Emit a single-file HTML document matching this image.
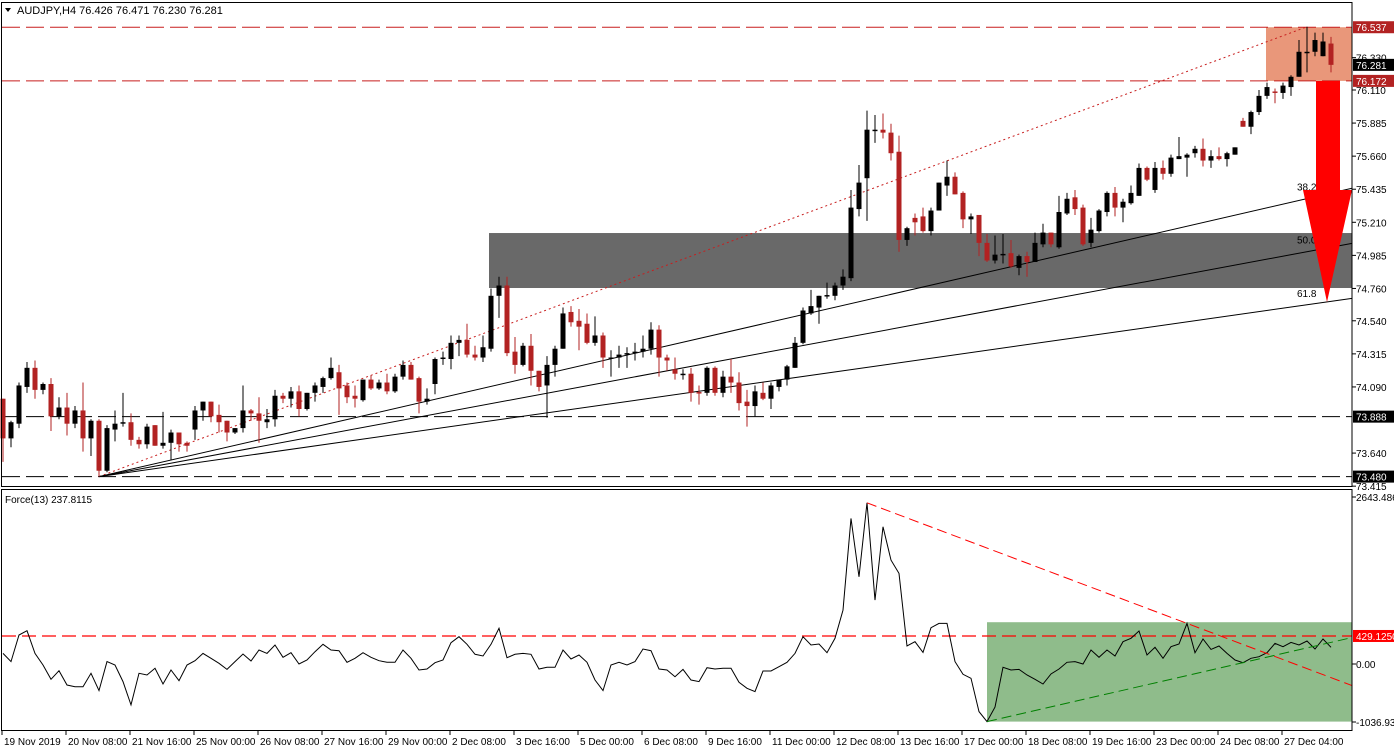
<!DOCTYPE html>
<html><head><meta charset="utf-8">
<style>
html,body{margin:0;padding:0;background:#fff;}
svg{display:block;font-family:"Liberation Sans",sans-serif;}
</style></head>
<body>
<svg id="chart" width="1394" height="753" viewBox="0 0 1394 753" xmlns="http://www.w3.org/2000/svg">
<rect x="0" y="0" width="1394" height="753" fill="#fff"/>
<g id="bg"></g>
<g id="marks"></g>
<g id="over"></g>
<g id="axes"></g>
</svg>
<script>
// ---- data ----
const opens=[74.01,73.74,73.84,74.09,74.22,74.07,74.11,73.89,73.95,73.84,73.93,73.74,73.86,73.52,73.80,73.84,73.85,73.73,73.70,73.83,73.69,73.71,73.78,73.71,73.80,73.93,73.99,73.90,73.86,73.78,73.81,73.93,73.91,73.85,73.87,74.03,74.01,74.06,73.94,74.05,74.09,74.15,74.19,74.10,74.03,74.00,74.14,74.08,74.12,74.06,74.16,74.24,74.15,73.99,74.11,74.28,74.28,74.39,74.41,74.31,74.29,74.35,74.71,74.78,74.33,74.24,74.37,74.20,74.10,74.24,74.35,74.60,74.54,74.52,74.39,74.44,74.29,74.29,74.31,74.32,74.33,74.35,74.48,74.29,74.21,74.17,74.18,74.055,74.05,74.22,74.05,74.16,74.12,73.99,73.96,74.05,74.01,74.09,74.14,74.22,74.39,74.59,74.63,74.705,74.71,74.78,74.83,75.30,75.51,75.83,75.84,75.82,75.69,75.09,75.24,75.25,75.15,75.29,75.46,75.52,75.41,75.23,75.26,75.07,74.95,74.985,75.00,74.90,74.98,74.94,75.06,75.14,75.04,75.27,75.38,75.31,75.07,75.15,75.28,75.41,75.31,75.34,75.39,75.58,75.43,75.58,75.54,75.64,75.65,75.68,75.71,75.63,75.66,75.64,75.67,75.90,75.86,75.96,76.07,76.10,76.09,76.13,76.20,76.36,76.37,76.34,76.426];
const highs=[74.01,73.86,74.12,74.26,74.27,74.12,74.15,74.02,74.05,73.96,74.12,73.87,73.87,73.83,73.93,74.05,73.91,73.75,73.84,73.83,73.92,73.80,73.78,73.72,73.96,73.99,73.99,73.97,73.86,73.81,74.10,73.94,74.02,73.94,74.07,74.05,74.09,74.10,74.05,74.12,74.16,74.29,74.24,74.12,74.10,74.14,74.17,74.14,74.18,74.18,74.27,74.26,74.16,74.08,74.29,74.33,74.44,74.44,74.52,74.37,74.44,74.76,74.84,74.84,74.43,74.39,74.45,74.20,74.30,74.37,74.63,74.64,74.62,74.59,74.57,74.46,74.34,74.37,74.36,74.39,74.44,74.53,74.51,74.31,74.29,74.21,74.22,74.10,74.23,74.23,74.20,74.28,74.19,74.07,74.10,74.12,74.12,74.14,74.24,74.43,74.63,74.75,74.71,74.80,74.80,74.89,75.43,75.60,75.97,75.94,75.95,75.88,75.80,75.18,75.27,75.31,75.31,75.48,75.63,75.55,75.42,75.27,75.26,75.13,75.12,75.13,75.09,74.99,75.01,75.14,75.20,75.14,75.39,75.41,75.43,75.33,75.24,75.30,75.42,75.45,75.37,75.46,75.61,75.59,75.62,75.63,75.67,75.79,75.68,75.73,75.78,75.70,75.72,75.69,75.72,75.92,75.97,76.11,76.16,76.12,76.16,76.21,76.45,76.54,76.50,76.50,76.471];
const lows=[73.58,73.68,73.81,74.05,74.01,74.04,73.79,73.87,73.76,73.81,73.65,73.62,73.48,73.51,73.72,73.82,73.69,73.67,73.67,73.69,73.67,73.59,73.65,73.65,73.73,73.86,73.85,73.78,73.72,73.77,73.78,73.86,73.71,73.81,73.82,73.98,73.95,73.89,73.93,73.99,74.05,74.14,73.90,73.98,73.95,73.99,74.07,74.07,74.04,74.05,74.14,74.14,73.91,73.97,74.04,74.24,74.21,74.30,74.29,74.27,74.26,74.33,74.56,74.30,74.18,74.23,74.10,74.06,73.88,74.16,74.35,74.50,74.34,74.38,74.37,74.22,74.16,74.22,74.22,74.27,74.29,74.31,74.16,74.20,74.14,74.14,73.99,73.97,74.03,74.03,74.02,74.05,73.93,73.82,73.89,74.00,73.94,74.06,74.10,74.22,74.38,74.58,74.52,74.69,74.68,74.75,74.81,75.25,75.22,75.75,75.78,75.63,75.01,75.05,75.12,75.14,75.12,75.29,75.39,75.40,75.17,75.13,74.98,74.94,74.93,74.93,74.90,74.85,74.84,74.94,75.04,75.04,75.03,75.26,75.26,75.05,75.04,75.14,75.25,75.25,75.21,75.33,75.39,75.49,75.41,75.50,75.52,75.64,75.52,75.65,75.59,75.58,75.63,75.59,75.67,75.86,75.81,75.94,76.05,76.02,76.05,76.07,76.20,76.23,76.34,76.34,76.230];
const closes=[73.74,73.85,74.10,74.22,74.07,74.11,73.89,73.95,73.84,73.93,73.74,73.86,73.52,73.81,73.84,73.85,73.73,73.70,73.82,73.69,73.71,73.78,73.70,73.69,73.93,73.99,73.89,73.85,73.78,73.81,73.93,73.91,73.86,73.87,74.03,74.01,74.06,73.94,74.05,74.10,74.15,74.22,74.08,74.02,74.01,74.14,74.08,74.12,74.06,74.16,74.24,74.14,73.99,74.01,74.28,74.29,74.39,74.41,74.31,74.29,74.36,74.71,74.78,74.32,74.24,74.37,74.20,74.09,74.24,74.35,74.59,74.53,74.50,74.39,74.44,74.29,74.29,74.31,74.32,74.33,74.35,74.48,74.29,74.27,74.18,74.18,74.05,74.045,74.22,74.05,74.16,74.12,73.98,73.96,74.06,74.01,74.10,74.14,74.23,74.39,74.61,74.64,74.71,74.715,74.78,74.84,75.31,75.48,75.84,75.84,75.82,75.68,75.09,75.17,75.21,75.15,75.29,75.48,75.52,75.40,75.23,75.25,75.07,74.95,74.99,74.995,74.91,74.98,74.94,75.07,75.14,75.06,75.28,75.37,75.30,75.06,75.16,75.29,75.41,75.31,75.35,75.41,75.58,75.50,75.58,75.54,75.65,75.66,75.67,75.71,75.63,75.66,75.64,75.68,75.72,75.86,75.96,76.07,76.13,76.09,76.14,76.20,76.37,76.37,76.45,76.44,76.281];
const force=[163,36,444,510,163,-15,-235,-102,-321,-347,-347,-143,-408,36,-15,-270,-627,-143,-168,-66,-306,-92,-255,-15,51,163,87,10,-82,36,153,46,214,163,291,102,173,0,61,189,301,214,204,26,87,173,102,51,26,26,214,87,-92,-77,20,61,326,418,301,148,122,301,546,97,148,163,148,-77,-51,-51,214,77,138,26,-245,-408,-15,26,-15,36,230,204,-77,-92,-194,-82,-245,-270,-56,-77,-66,-66,-281,-372,-423,-107,-107,-41,26,163,418,291,306,173,393,826,2229,1336,2468,979,2101,1591,1387,275,342,178,556,622,622,36,-158,-219,-729,-882,-660,-51,-92,-82,-168,-235,-306,-153,-77,26,36,0,214,102,214,122,342,393,505,138,255,87,265,306,622,173,383,224,275,163,61,20,87,112,173,316,265,331,291,352,230,383,255];
const priceTicks=["76.330","76.110","75.885","75.660","75.435","75.210","74.985","74.760","74.540","74.315","74.090","73.640","73.415"];
const timeLabels=["19 Nov 2019","20 Nov 08:00","21 Nov 16:00","25 Nov 00:00","26 Nov 08:00","27 Nov 16:00","29 Nov 00:00","2 Dec 08:00","3 Dec 16:00","5 Dec 00:00","6 Dec 08:00","9 Dec 16:00","11 Dec 00:00","12 Dec 08:00","13 Dec 16:00","17 Dec 00:00","18 Dec 08:00","19 Dec 16:00","23 Dec 00:00","24 Dec 08:00","27 Dec 04:00"];
const resistLevels=[76.537,76.172];
const supportLevels=[73.888,73.480];
const zoneGray=[75.137,74.763];
const forceLevel=[429.125];
const fibRatios=[0.382,0.5,0.618];

// ---- scales ----
const NS="http://www.w3.org/2000/svg";
const PX=1352;
function xB(i){return 3+8*i;}
function yP(p){return 90+(76.110-p)*147;}
function yF(v){return 664-v*0.0653;}
function el(tag,attrs,parent){const e=document.createElementNS(NS,tag);for(const k in attrs)e.setAttribute(k,attrs[k]);parent.appendChild(e);return e;}
const bg=document.getElementById('bg'),mk=document.getElementById('marks'),ov=document.getElementById('over'),ax=document.getElementById('axes');

// zones
let z=el('rect',{x:489,y:yP(zoneGray[0]),width:PX-489,height:yP(zoneGray[1])-yP(zoneGray[0]),fill:'#696969'},bg);


z=el('rect',{x:1266,y:yP(resistLevels[0]),width:PX-1266,height:yP(resistLevels[1])-yP(resistLevels[0]),fill:'#E9977A'},bg);


z=el('rect',{x:987,y:yF(640),width:PX-987,height:yF(-882)-yF(640),fill:'#8FBC8B'},bg);



// horizontal levels
resistLevels.forEach(p=>{const l=el('line',{x1:2,x2:PX,y1:yP(p),y2:yP(p),stroke:'#C81E1E','stroke-width':1,'stroke-dasharray':'18,6'},bg);

});
supportLevels.forEach(p=>{const l=el('line',{x1:2,x2:PX,y1:yP(p),y2:yP(p),stroke:'#000','stroke-width':1,'stroke-dasharray':'18,6'},bg);

});
forceLevel.forEach(v=>{const l=el('line',{x1:2,x2:PX,y1:yF(v),y2:yF(v),stroke:'#FF0000','stroke-width':1.2,'stroke-dasharray':'14,6'},bg);

});

// fib fan + trend
const ox=xB(12),oy=yP(lows[12]),tx=xB(163),ty=yP(highs[163]);
let tl=el('line',{x1:ox,y1:oy,x2:tx,y2:ty,stroke:'#C81E1E','stroke-width':1,'stroke-dasharray':'2,3'},bg);


fibRatios.forEach(r=>{const yy=ty+r*(oy-ty);const ye=oy+(yy-oy)*(PX-ox)/(tx-ox);
const l=el('line',{x1:ox,y1:oy,x2:PX,y2:ye,stroke:'#000','stroke-width':1},bg);


const t=el('text',{x:1297,y:yy-8,'font-size':10,fill:'#000'},ov);t.textContent=(r*100).toFixed(1);

});

// candles
for(let i=0;i<closes.length;i++){
 const up=closes[i]>=opens[i];const c=up?'#000':'#B22222';const cx=xB(i);
 const w=el('line',{x1:cx,x2:cx,y1:yP(highs[i]),y2:yP(lows[i]),stroke:c,'stroke-width':1},mk);
 
 
 const t=Math.min(yP(opens[i]),yP(closes[i]));const h=Math.max(1.2,Math.abs(yP(opens[i])-yP(closes[i])));
 const b=el('rect',{x:cx-2.5,y:t,width:5,height:h,fill:c},mk);
 
 
}
// force line
let pts=force.map((v,i)=>xB(i)+','+yF(v).toFixed(1)).join(' ');
let fl=el('polyline',{points:pts,fill:'none',stroke:'#000','stroke-width':1},mk);


// force trendlines
const px=xB(108),py=yF(force[108]),qx=xB(148),qy=yF(force[148]);
let r1=el('line',{x1:px,y1:py,x2:PX,y2:py+(qy-py)*(PX-px)/(qx-px),stroke:'#FF0000','stroke-width':1,'stroke-dasharray':'10,5'},ov);


let g1=el('line',{x1:xB(123),y1:yF(force[123]),x2:PX,y2:yF(405),stroke:'#008000','stroke-width':1,'stroke-dasharray':'10,5'},ov);



// arrow
let ar=el('polygon',{points:'1316,81 1340,81 1340,190 1352,190 1327,302 1303,190 1316,190',fill:'#FF0000'},ov);



// frames
el('rect',{x:1.5,y:2.5,width:PX-1.5,height:484,fill:'none',stroke:'#000','stroke-width':1},ax);
el('rect',{x:1.5,y:489.5,width:PX-1.5,height:241,fill:'none',stroke:'#000','stroke-width':1},ax);

// price axis
priceTicks.forEach(s=>{const y=yP(parseFloat(s));el('line',{x1:PX,x2:PX+4,y1:y,y2:y,stroke:'#000'},ax);
const t=el('text',{x:1356,y:y+4,'font-size':10,fill:'#000'},ax);t.textContent=s;

});
function tag(v,y,bgc,dn){const r=el('rect',{x:1353,y:y-6,width:41,height:12,fill:bgc},ax);
const t=el('text',{x:1356,y:y+4,'font-size':10,fill:'#fff'},ax);t.textContent=v;

}
tag('76.537',yP(76.537),'#B22222','resistance-price-tag');
tag('76.281',yP(76.281),'#000','last-price-tag');
tag('76.172',yP(76.172),'#B22222','resistance-price-tag');
tag('73.888',yP(73.888),'#000','support-price-tag');
tag('73.480',yP(73.480),'#000','support-price-tag');
// force axis
[['2643.486',497],['0.00',yF(0)],['-1036.934',722]].forEach(a=>{el('line',{x1:PX,x2:PX+4,y1:a[1],y2:a[1],stroke:'#000'},ax);
const t=el('text',{x:1356,y:a[1]+4,'font-size':10,fill:'#000'},ax);t.textContent=a[0];

});
el('rect',{x:1353,y:yF(429.125)-6,width:41,height:12,fill:'#FF0000'},ax);
let ft=el('text',{x:1356,y:yF(429.125)+4,'font-size':10,fill:'#fff'},ax);ft.textContent='429.1250';



// time axis
timeLabels.forEach((s,k)=>{const x=2+64*k;el('line',{x1:x,x2:x,y1:731,y2:735,stroke:'#000'},ax);
const t=el('text',{x:x+2,y:745,'font-size':10,fill:'#000'},ax);t.textContent=s;

});
</script>
<svg style="position:absolute;left:0;top:0" width="400" height="510">
<polygon points="5,8 11,8 8,12" fill="#000"/>
<text x="17" y="14" font-family="Liberation Sans, sans-serif" font-size="11" fill="#000">AUDJPY,H4  76.426 76.471 76.230 76.281</text>
<text x="5" y="503" font-family="Liberation Sans, sans-serif" font-size="10" fill="#000">Force(13) 237.8115</text>
</svg>
</body></html>
